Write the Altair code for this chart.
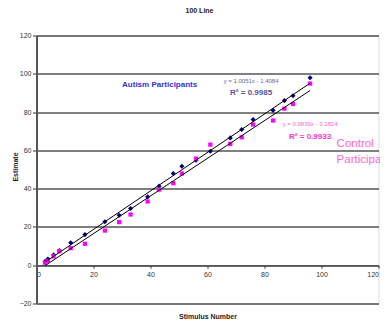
import altair as alt
import pandas as pd

# ---- data ----
stimulus = [3, 4, 6, 8, 12, 17, 24, 29, 33, 39, 43, 48, 51, 56, 61, 68, 72, 76, 83, 87, 90, 96]
autism = [2.0, 3.2, 5.4, 7.6, 11.7, 16.0, 22.7, 26.1, 29.6, 35.7, 41.3, 47.9, 51.7, 54.8, 59.5, 66.5, 70.9, 76.1, 80.9, 86.0, 88.5, 97.9]
control = [1.3, 2.2, 4.6, 7.3, 8.9, 11.2, 18.1, 22.5, 26.5, 33.3, 39.5, 42.8, 47.9, 55.7, 63.0, 63.4, 66.8, 73.5, 75.6, 81.8, 84.2, 94.9]

groups = ["Autism", "Control"]
slopes = [1.0051, 0.9839]
intercepts = [-1.4084, -3.1824]
fit_range = [3, 96]

x_ticks = [0, 20, 40, 60, 80, 100, 120]
y_ticks = [-20, 0, 20, 40, 60, 80, 100, 120]

# annotation texts (positions in data units)
ann_text = ["Autism Participants", "y = 1.0051x - 1.4084", "R\u00b2 = 0.9985",
            "y = 0.9839x - 3.1824", "R\u00b2 = 0.9933", "Control", "Participants"]
ann_x = [43.2, 75.3, 75.3, 96.0, 96.0, 105.3, 105.3]
ann_y = [94.4, 96.1, 90.0, 73.9, 66.9, 63.4, 55.2]
ann_size = [8, 6, 8, 6, 8, 11.5, 11.5]
ann_weight = ["bold", "normal", "bold", "normal", "bold", "normal", "normal"]
ann_color = ["#3333cc", "#666699", "#555599", "#ff66cc", "#ff33cc", "#ff66cc", "#ff66cc"]
ann_align = ["center", "center", "center", "center", "center", "left", "left"]

pts = pd.DataFrame({"x": stimulus, "autism": autism, "control": control})
fits = pd.DataFrame([
    {"group": g, "x": xv, "m": m, "b": b}
    for g, m, b in zip(groups, slopes, intercepts) for xv in fit_range
])
ann = pd.DataFrame({"t": ann_text, "x": ann_x, "y": ann_y})

FONT = "Liberation Sans"
xscale = alt.Scale(domain=[0, 120], nice=False, zero=False)
yscale = alt.Scale(domain=[-20, 120], nice=False, zero=False)

x_axis = alt.Axis(values=x_ticks, grid=False, offset=-38.3, tickSize=3, tickColor="#333",
                  domainColor="#555", domainWidth=1.5, labelFontSize=7, labelColor="#333",
                  labelFont=FONT, labelPadding=2, labelOverlap=False, title="Stimulus Number",
                  titleFont=FONT, titleFontSize=7, titleFontWeight="bold", titleColor="#222",
                  titleY=51, titleBaseline="middle")
y_axis = alt.Axis(values=y_ticks, grid=True, gridColor="#000", gridWidth=1, tickSize=4,
                  tickColor="#333", domainColor="#555", domainWidth=2, labelFontSize=7,
                  labelColor="#333", labelFont=FONT, labelPadding=1.5, labelOverlap=False,
                  title="Estimate", titleFont=FONT, titleFontSize=7, titleFontWeight="bold",
                  titleColor="#222", titleX=-21, titleY=131, titleBaseline="middle",
                  titleAlign="center")

X = lambda f: alt.X(f, scale=xscale, axis=x_axis)
Y = lambda f: alt.Y(f, scale=yscale, axis=y_axis)

base = alt.Chart(pts)
navy = base.mark_point(shape="diamond", filled=True, size=26, color="#000080", opacity=1).encode(
    x=X("x:Q"), y=Y("autism:Q"),
)
pink = base.mark_point(shape="square", filled=True, size=18, color="#ff00ff", opacity=1).encode(
    x=X("x:Q"), y=Y("control:Q"),
)
lines = alt.Chart(fits).transform_calculate(
    yfit="datum.m * datum.x + datum.b"
).mark_line(color="#000", strokeWidth=1).encode(
    x=X("x:Q"), y=Y("yfit:Q"), detail="group:N",
)

text_layers = []
for i in range(len(ann_text)):
    text_layers.append(
        alt.Chart(ann.iloc[[i]]).mark_text(
            font=FONT, fontSize=ann_size[i], fontWeight=ann_weight[i], color=ann_color[i],
            align=ann_align[i], baseline="middle"
        ).encode(x=X("x:Q"), y=Y("y:Q"), text="t:N")
    )

chart = alt.layer(navy, pink, lines, *text_layers).properties(
    width=342, height=268,
    title=alt.TitleParams("100 Line", font=FONT, fontSize=7, fontWeight="bold", color="#222",
                          anchor="middle", frame="group", baseline="middle", offset=14, dx=-8),
    autosize=alt.AutoSizeParams(type="none"),
    padding={"left": 28.5, "top": 27.5, "right": 1.5, "bottom": 18.5},
).configure_view(stroke="#808080", strokeWidth=1).configure(background="white")

chart.save("out.html", embed_options={"renderer": "svg", "actions": False})
